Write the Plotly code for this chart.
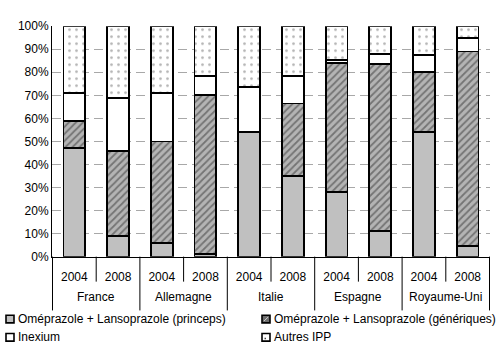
import plotly.graph_objects as go

countries = ["France", "France", "Allemagne", "Allemagne", "Italie", "Italie",
             "Espagne", "Espagne", "Royaume-Uni", "Royaume-Uni"]
years = ["2004", "2008"] * 5

# Market shares (%) per segment, bottom to top
princeps = [47, 9, 6, 1, 54, 35, 28, 11, 54, 4.5]
generiques = [12, 37, 44, 69, 0, 31.5, 56, 72.5, 26, 84.5]
inexium = [12, 23, 21, 8.5, 19.5, 12, 1.5, 4.5, 7.5, 5.8]
autres = [29, 31, 29, 21.5, 26.5, 21.5, 14.5, 12, 12.5, 5.2]

names = ["Oméprazole + Lansoprazole (princeps)",
         "Oméprazole + Lansoprazole (génériques)",
         "Inexium", "Autres IPP"]

FONT = "Liberation Sans, Arial, sans-serif"
W, H = 497, 352
PLOT_TOP, PLOT_BOT = 20, 260
PLOT_H = PLOT_BOT - PLOT_TOP

keys = [f"{c} {y}" for c, y in zip(countries, years)]

outline = dict(color="black", width=1.8)
styles = [
    dict(color="#C0C0C0"),
    dict(color="#B4B4B4", pattern=dict(shape="/", bgcolor="#B4B4B4",
                                       fgcolor="#333333", size=5, solidity=0.35)),
    dict(color="white"),
    dict(color="white", pattern=dict(shape=".", bgcolor="white",
                                     fgcolor="#666666", size=7, solidity=0.12)),
]
series = [princeps, generiques, inexium, autres]

fig = go.Figure()
for name, vals, st in zip(names, series, styles):
    fig.add_trace(go.Bar(x=keys, y=vals, name=name, showlegend=False,
                         marker=dict(line=outline, **st)))

# Two-level category axis: separators between years and longer ones between countries
groups = []
for i, c in enumerate(countries):
    if not groups or groups[-1][0] != c:
        groups.append([c, i, i])
    else:
        groups[-1][2] = i
starts = {g[1] for g in groups} | {len(countries)}
for b in range(len(countries) + 1):
    depth = 56 if b in starts else 26
    fig.add_shape(type="line", xref="x", yref="y domain", x0=b - 0.5, x1=b - 0.5,
                  y0=0, y1=-depth / PLOT_H, line=dict(color="black", width=1))
for c, i0, i1 in groups:
    fig.add_annotation(x=(i0 + i1) / 2, y=-42 / PLOT_H, xref="x", yref="y domain",
                       text=c, showarrow=False, yanchor="middle",
                       font=dict(family=FONT, size=12, color="black"))

# Legend keys drawn as small outlined squares, labels as annotations
leg_cols = [6, 262]          # swatch left edge, px
leg_rows = [325, 344]        # row centre, px
sw = 8
swatch_fill = ["#C0C0C0", "#6E6E6E", "white", "white"]
for i, name in enumerate(names):
    lx = leg_cols[i % 2]
    cy = leg_rows[i // 2]
    fig.add_shape(type="rect", xref="paper", yref="paper",
                  x0=lx / W, x1=(lx + sw) / W,
                  y0=1 - (cy - sw / 2) / H, y1=1 - (cy + sw / 2) / H,
                  fillcolor=swatch_fill[i], line=dict(color="black", width=1.6))
    if i == 1:
        fig.add_shape(type="line", xref="paper", yref="paper",
                      x0=(lx + 2) / W, x1=(lx + sw - 2) / W,
                      y0=1 - (cy + 2) / H, y1=1 - (cy - 2) / H,
                      line=dict(color="#D0D0D0", width=1))
    if i == 3:
        fig.add_shape(type="rect", xref="paper", yref="paper",
                      x0=(lx + 2.5) / W, x1=(lx + 4) / W,
                      y0=1 - (cy + 0.5) / H, y1=1 - (cy + 2) / H,
                      fillcolor="#444444", line=dict(width=0))
    fig.add_annotation(x=(lx + sw + 2) / W, y=1 - cy / H, xref="paper", yref="paper",
                       text=name, showarrow=False, xanchor="left", yanchor="middle",
                       font=dict(family=FONT, size=12, color="black"))

fig.update_layout(
    width=W, height=H,
    barmode="stack", bargap=0.5,
    paper_bgcolor="white", plot_bgcolor="rgba(0,0,0,0)",
    margin=dict(l=0, r=0, t=0, b=0),
    font=dict(family=FONT, size=12, color="black"),
    showlegend=False,
    xaxis=dict(domain=[52 / W, 490 / W], type="category",
               tickvals=keys, ticktext=years, ticks="",
               showline=True, linecolor="black", linewidth=1,
               ticklabelstandoff=9, showgrid=False, zeroline=False),
    yaxis=dict(domain=[(H - PLOT_BOT) / H, (H - PLOT_TOP) / H], range=[0, 100],
               dtick=10, ticksuffix="%", showgrid=True, gridcolor="#a8a8a8",
               griddash="9px,5px", gridwidth=1, showline=True,
               linecolor="black", linewidth=1, zeroline=False, ticks=""),
)

fig.write_html("out.html")
